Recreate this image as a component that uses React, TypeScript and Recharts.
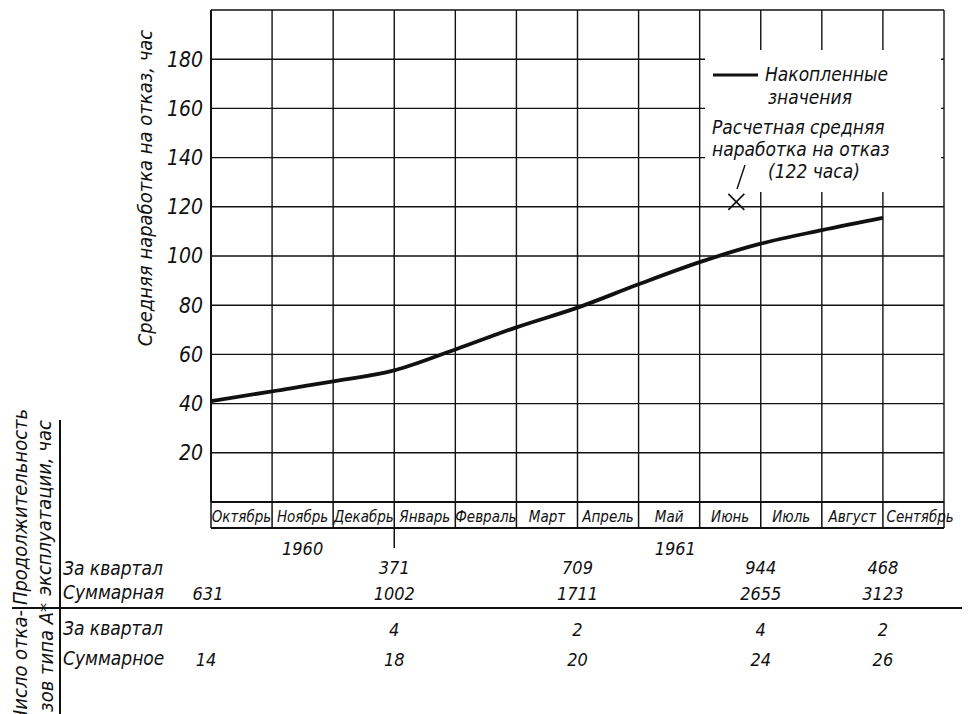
import React from 'react'
import {
  ComposedChart,
  Line,
  Scatter,
  XAxis,
  YAxis,
  CartesianGrid,
  ReferenceLine,
  Legend,
} from 'recharts'

const FONT = "'DejaVu Sans Condensed', 'DejaVu Sans', sans-serif"
const INK = '#111'

// months, October 1960 .. September 1961
const months = [
  'Октябрь', 'Ноябрь', 'Декабрь', 'Январь', 'Февраль', 'Март',
  'Апрель', 'Май', 'Июнь', 'Июль', 'Август', 'Сентябрь',
]
// cumulative mean time between failures at the start of each month, hours
const monthStart = [0, 1, 2, 3, 4, 5, 6, 7, 8, 9, 10, 11]
const mtbf = [41, 45, 49, 53.5, 62, 71, 79, 88.5, 97.5, 105, 110.5, 115.5]
const yTicks = [0, 20, 40, 60, 80, 100, 120, 140, 160, 180, 200]

// design estimate (122 h)
const estimateX = [8.6]
const estimateY = [122]

const yearLabels = ['1960', '1961']
const yearAt = [1.5, 7.6]

// table columns (month boundary positions)
const tableAt = [0, 3, 6, 9, 11]
const hoursQuarter = ['', '371', '709', '944', '468']
const hoursTotal = ['631', '1002', '1711', '2655', '3123']
const failQuarter = ['', '4', '2', '4', '2']
const failTotal = ['14', '18', '20', '24', '26']

const lineData = mtbf.map((v, i) => ({ x: monthStart[i], v }))
const estimateData = estimateX.map((x, i) => ({ x, v: estimateY[i] }))
const monthTicks = [...months.flatMap((_, i) => [i, i + 0.5]), months.length]
const tableTicks = [...tableAt, ...yearAt].sort((a, b) => a - b)

const MonthTick = (props: any) => {
  const { x, y, payload } = props
  const v = payload.value
  if (Number.isInteger(v)) {
    return <line x1={x} y1={y} x2={x} y2={y + 26} stroke={INK} strokeWidth={1.5} />
  }
  const i = Math.floor(v)
  const last = i === months.length - 1
  return (
    <text
      x={last ? x - 27 : x}
      y={y + 20}
      textAnchor={last ? 'start' : 'middle'}
      fontFamily={FONT}
      fontStyle="italic"
      fontSize={15}
      fill={INK}
    >
      {months[i]}
    </text>
  )
}

const TableTick = (props: any) => {
  const { x, y, payload } = props
  const v = payload.value
  const yi = yearAt.indexOf(v)
  const t = { fontFamily: FONT, fontStyle: 'italic', fontSize: 18, fill: INK, textAnchor: 'middle' as const }
  if (yi >= 0) {
    return <text x={x} y={y + 27} {...t}>{yearLabels[yi]}</text>
  }
  const ti = tableAt.indexOf(v)
  if (ti < 0) return <g />
  return (
    <g>
      {v === 3 && <line x1={x} y1={y} x2={x} y2={y + 20} stroke={INK} strokeWidth={1.5} />}
      <text x={x} y={y + 46} {...t}>{hoursQuarter[ti]}</text>
      <text x={ti === 0 ? x - 3 : x} y={y + 72} {...t}>{hoursTotal[ti]}</text>
      <text x={x} y={y + 108} {...t}>{failQuarter[ti]}</text>
      <text x={ti === 0 ? x - 5 : x} y={y + 138} {...t}>{failTotal[ti]}</text>
    </g>
  )
}

const YLabel = (props: any) => {
  const vb = props.viewBox || { x: 0, y: 10 }
  const cx = vb.x + 152
  const cy = vb.y + 178
  return (
    <text
      x={cx}
      y={cy}
      transform={`rotate(-90 ${cx} ${cy})`}
      textAnchor="middle"
      fontFamily={FONT}
      fontStyle="italic"
      fontSize={20}
      fill={INK}
    >
      Средняя наработка на отказ, час
    </text>
  )
}

const Cross = (props: any) => {
  const { cx, cy } = props
  if (cx == null || cy == null) return <g />
  return (
    <g stroke={INK} strokeWidth={1.6}>
      <line x1={cx - 8} y1={cy - 8} x2={cx + 8} y2={cy + 8} />
      <line x1={cx - 8} y1={cy + 8} x2={cx + 8} y2={cy - 8} />
    </g>
  )
}

const LegendBox = () => {
  const t = { fontFamily: FONT, fontStyle: 'italic' as const, fontSize: 19, fill: INK }
  return (
    <svg width={236} height={142} style={{ display: 'block' }}>
      <line x1={8} y1={25} x2={53} y2={25} stroke={INK} strokeWidth={3} />
      <text x={60} y={31} {...t}>Накопленные</text>
      <text x={63} y={54} {...t}>значения</text>
      <text x={7} y={84} {...t}>Расчетная средняя</text>
      <text x={7} y={106} {...t}>наработка на отказ</text>
      <text x={63} y={128} {...t}>(122 часа)</text>
      <line x1={40} y1={115} x2={32} y2={139} stroke={INK} strokeWidth={1.4} />
    </svg>
  )
}

export default function App() {
  const side = { fontFamily: FONT, fontStyle: 'italic' as const, fill: INK }
  return (
    <div style={{ position: 'absolute', left: 0, top: 0, width: 969, height: 714, background: '#fff', overflow: 'hidden' }}>
      <ComposedChart
        width={969}
        height={714}
        margin={{ top: 10, right: 25, bottom: 0, left: 0 }}
      >
        <CartesianGrid vertical={false} stroke={INK} strokeWidth={1.4} strokeOpacity={1} />
        {monthTicks.filter((v) => Number.isInteger(v)).map((v) => (
          <ReferenceLine key={v} x={v} stroke={INK} strokeWidth={1.4} />
        ))}
        <XAxis
          dataKey="x"
          type="number"
          domain={[0, 12]}
          ticks={monthTicks}
          interval={0}
          height={26}
          tickSize={0}
          tickMargin={0}
          tickLine={false}
          allowDataOverflow
          axisLine={{ stroke: INK, strokeWidth: 2 }}
          tick={<MonthTick />}
        />
        <XAxis
          xAxisId="tbl"
          dataKey="x"
          type="number"
          domain={[0, 12]}
          ticks={tableTicks}
          interval={0}
          height={186}
          tickSize={0}
          tickMargin={0}
          tickLine={false}
          allowDataOverflow
          axisLine={{ stroke: INK, strokeWidth: 2 }}
          tick={<TableTick />}
        />
        <YAxis
          type="number"
          domain={[0, 200]}
          ticks={yTicks}
          interval={0}
          width={211}
          tickSize={0}
          tickMargin={8}
          tickLine={false}
          axisLine={{ stroke: INK, strokeWidth: 2 }}
          tickFormatter={(v: number) => (v === 0 || v === 200 ? '' : String(v))}
          tick={{ fontFamily: FONT, fontStyle: 'italic', fontSize: 21, fill: INK }}
          label={YLabel}
        />
        {/* invisible carrier so the table axis gets a scale */}
        <Line
          xAxisId="tbl"
          data={lineData}
          dataKey="v"
          stroke="none"
          dot={false}
          activeDot={false}
          legendType="none"
          isAnimationActive={false}
        />
        <Line
          data={lineData}
          dataKey="v"
          type="monotone"
          stroke={INK}
          strokeWidth={3.8}
          dot={false}
          activeDot={false}
          isAnimationActive={false}
        />
        <Scatter
          data={estimateData}
          dataKey="v"
          shape={Cross}
          legendType="none"
          isAnimationActive={false}
        />
        <Legend
          layout="horizontal"
          verticalAlign="middle"
          align="center"
          content={() => <LegendBox />}
          wrapperStyle={{ left: 705, top: 50, width: 236, height: 142, background: '#fff' }}
        />
      </ComposedChart>

      <svg
        width={969}
        height={714}
        style={{ position: 'absolute', left: 0, top: 0, pointerEvents: 'none' }}
      >
        <line x1={60} y1={420} x2={60} y2={714} stroke={INK} strokeWidth={2} />
        <line x1={12} y1={608} x2={962} y2={608} stroke={INK} strokeWidth={2} />
        <g {...side} fontSize={19}>
          <text x={63} y={575}>За квартал</text>
          <text x={63} y={599}>Суммарная</text>
          <text x={63} y={635}>За квартал</text>
          <text x={63} y={665}>Суммарное</text>
        </g>
        <g {...side} fontSize={20}>
          <text x={27} y={507} textAnchor="middle" transform="rotate(-90 27 507)">Продолжительность</text>
          <text x={51} y={508} textAnchor="middle" transform="rotate(-90 51 508)">эксплуатации, час</text>
          <text x={27} y={610} textAnchor="end" transform="rotate(-90 27 610)">Число отка-</text>
          <text x={53} y={603} textAnchor="end" transform="rotate(-90 53 603)">зов типа А*</text>
        </g>
      </svg>
    </div>
  )
}
